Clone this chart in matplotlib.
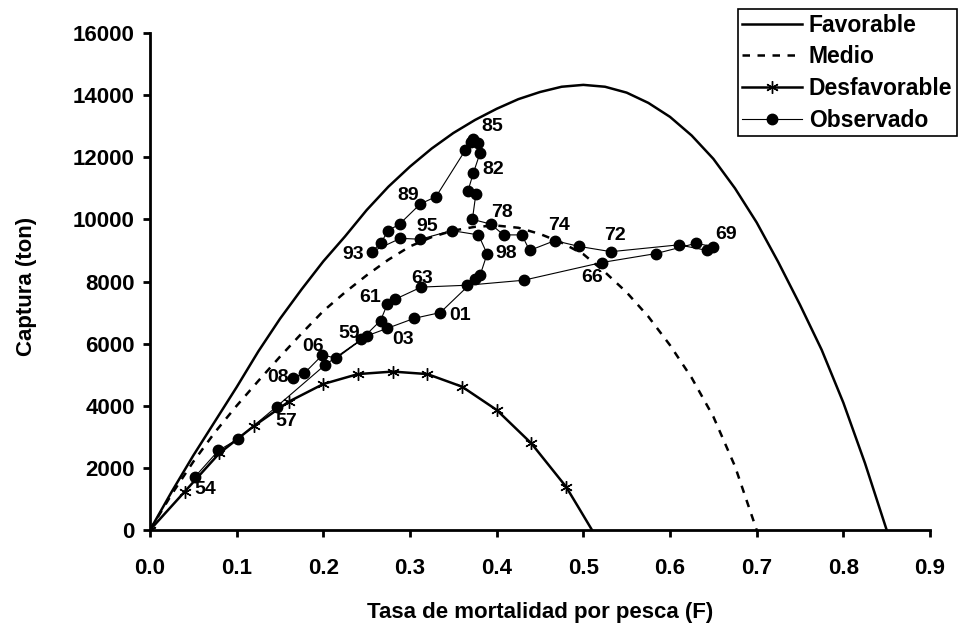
import matplotlib
matplotlib.use("Agg")
import matplotlib.pyplot as plt

plt.rcParams['font.family'] = ['Liberation Sans', 'DejaVu Sans']
plt.rcParams['font.weight'] = 'bold'

# Curvas de rendimiento (F, captura)
f_fav = [0.0, 0.025, 0.05, 0.075, 0.1, 0.125, 0.15, 0.175, 0.2, 0.225, 0.25,
         0.275, 0.3, 0.325, 0.35, 0.375, 0.4, 0.425, 0.45, 0.475, 0.5, 0.525,
         0.55, 0.575, 0.6, 0.625, 0.65, 0.675, 0.7, 0.725, 0.75, 0.775, 0.8,
         0.825, 0.85]
y_fav = [0, 1230, 2400, 3500, 4600, 5750, 6800, 7750, 8650, 9450, 10300,
         11050, 11700, 12280, 12780, 13200, 13560, 13870, 14100, 14270, 14330,
         14270, 14080, 13750, 13300, 12700, 11950, 11000, 9900, 8620, 7250,
         5800, 4100, 2150, 0]

f_med = [0.0, 0.025, 0.05, 0.075, 0.1, 0.125, 0.15, 0.175, 0.2, 0.225, 0.25,
         0.275, 0.3, 0.325, 0.35, 0.375, 0.4, 0.425, 0.45, 0.475, 0.5, 0.525,
         0.55, 0.575, 0.6, 0.625, 0.65, 0.675, 0.7]
y_med = [0, 1150, 2200, 3150, 4000, 4800, 5580, 6330, 7050, 7650, 8200,
         8700, 9130, 9430, 9640, 9760, 9800, 9730, 9530, 9250, 8880, 8300,
         7650, 6870, 5950, 4900, 3650, 2050, 0]

f_des = [0.0, 0.04, 0.08, 0.12, 0.16, 0.2, 0.24, 0.28, 0.32, 0.36, 0.4, 0.44,
         0.48, 0.495, 0.51]
y_des = [0, 1233, 2470, 3350, 4130, 4700, 5020, 5100, 5020, 4615, 3865, 2790,
         1395, 700, 0]
n_star = 13  # puntos con asterisco

# Serie observada 1954-2008
years = list(range(1954, 2009))
f_obs = [0.052, 0.079, 0.101, 0.146, 0.202, 0.244, 0.266, 0.274, 0.283, 0.313,
         0.366, 0.431, 0.521, 0.584, 0.630, 0.650, 0.643, 0.610, 0.532, 0.495,
         0.467, 0.438, 0.429, 0.408, 0.393, 0.372, 0.376, 0.367, 0.373, 0.381,
         0.379, 0.373, 0.370, 0.364, 0.330, 0.312, 0.288, 0.275, 0.266, 0.256,
         0.289, 0.312, 0.348, 0.379, 0.389, 0.381, 0.375, 0.335, 0.305, 0.274,
         0.250, 0.215, 0.199, 0.178, 0.165]
y_obs = [1716, 2560, 2920, 3970, 5313, 6140, 6740, 7280, 7430, 7820,
         7880, 8040, 8610, 8900, 9230, 9120, 9000, 9180, 8960, 9130,
         9315, 9000, 9500, 9500, 9850, 10000, 10820, 10925, 11485, 12150,
         12450, 12580, 12500, 12236, 10730, 10500, 9850, 9640, 9230, 8960,
         9390, 9360, 9640, 9500, 8890, 8210, 8070, 7000, 6815, 6495,
         6247, 5530, 5635, 5045, 4900]

# anios etiquetados y desplazamiento del texto (puntos)
label_years = [1954, 1957, 1959, 1961, 1963, 1966, 1969, 1972, 1974, 1978,
               1982, 1985, 1989, 1993, 1995, 1998, 2001, 2003, 2006, 2008]
label_offsets = [(7, -9), (7, -11), (-8.5, 4), (-12.5, 4.5), (0.7, 6),
                 (-7, -11), (9, 8.5), (2.5, 12), (3, 11), (8, 8.5),
                 (14, 2.5), (14, 9), (-9, 6), (-13.5, -2), (5, 9.5),
                 (13.5, 0), (14, -2), (11.5, -8), (-7, 6), (-11, 0)]

x_ticks = [0.0, 0.1, 0.2, 0.3, 0.4, 0.5, 0.6, 0.7, 0.8, 0.9]
y_ticks = [0, 2000, 4000, 6000, 8000, 10000, 12000, 14000, 16000]

fig = plt.figure(figsize=(9.63, 6.44), dpi=100)
ax = fig.add_axes([150 / 963, 1 - 530 / 644, 780 / 963, 497 / 644])

ax.plot(f_fav, y_fav, color='black', lw=1.8, label='Favorable')
ax.plot(f_med, y_med, color='black', lw=1.8, dashes=(3, 3), label='Medio')
ax.plot(f_des, y_des, color='black', lw=1.8, marker=(6, 2, 0), ms=9, mew=1.0,
        markevery=list(range(n_star)), label='Desfavorable')
ax.plot(f_obs, y_obs, color='black', lw=0.8, marker='o', ms=7.5,
        label='Observado')

for yr, (dx, dy) in zip(label_years, label_offsets):
    i = years.index(yr)
    ax.annotate(f"{yr % 100:02d}", xy=(f_obs[i], y_obs[i]), xytext=(dx, dy),
                textcoords='offset points', ha='center', va='center',
                fontsize=14, fontweight='bold')

ax.set_xlim(0, 0.9)
ax.set_ylim(0, 16000)
ax.set_xticks(x_ticks)
ax.set_xticklabels([f"{v:.1f}" for v in x_ticks])
ax.set_yticks(y_ticks)
ax.set_yticklabels([str(v) for v in y_ticks])
ax.tick_params(axis='x', direction='out', length=5, width=2, pad=15,
               labelsize=16)
ax.tick_params(axis='y', direction='out', length=5, width=2, pad=6,
               labelsize=16)

for side in ['top', 'right']:
    ax.spines[side].set_visible(False)
for side in ['left', 'bottom']:
    ax.spines[side].set_linewidth(2)
ax.spines['bottom'].set_zorder(0)

ax.set_xlabel('Tasa de mortalidad por pesca (F)', fontsize=16,
              fontweight='bold')
ax.set_ylabel('Captura (ton)', fontsize=16, fontweight='bold')
ax.xaxis.set_label_coords(0.5, -0.145)
ax.yaxis.set_label_coords(-0.145, 0.49)

leg = ax.legend(loc='upper right', bbox_to_anchor=(957 / 963, 1 - 9 / 644),
                bbox_transform=fig.transFigure, borderaxespad=0,
                fontsize=16.5, frameon=True, fancybox=False, framealpha=1,
                edgecolor='black', handlelength=2.6, handletextpad=0.3,
                labelspacing=0.38, borderpad=0.2, numpoints=1)
leg.get_frame().set_linewidth(1.2)
for t in leg.get_texts():
    t.set_fontweight('bold')

fig.savefig('out.png', dpi=100)
